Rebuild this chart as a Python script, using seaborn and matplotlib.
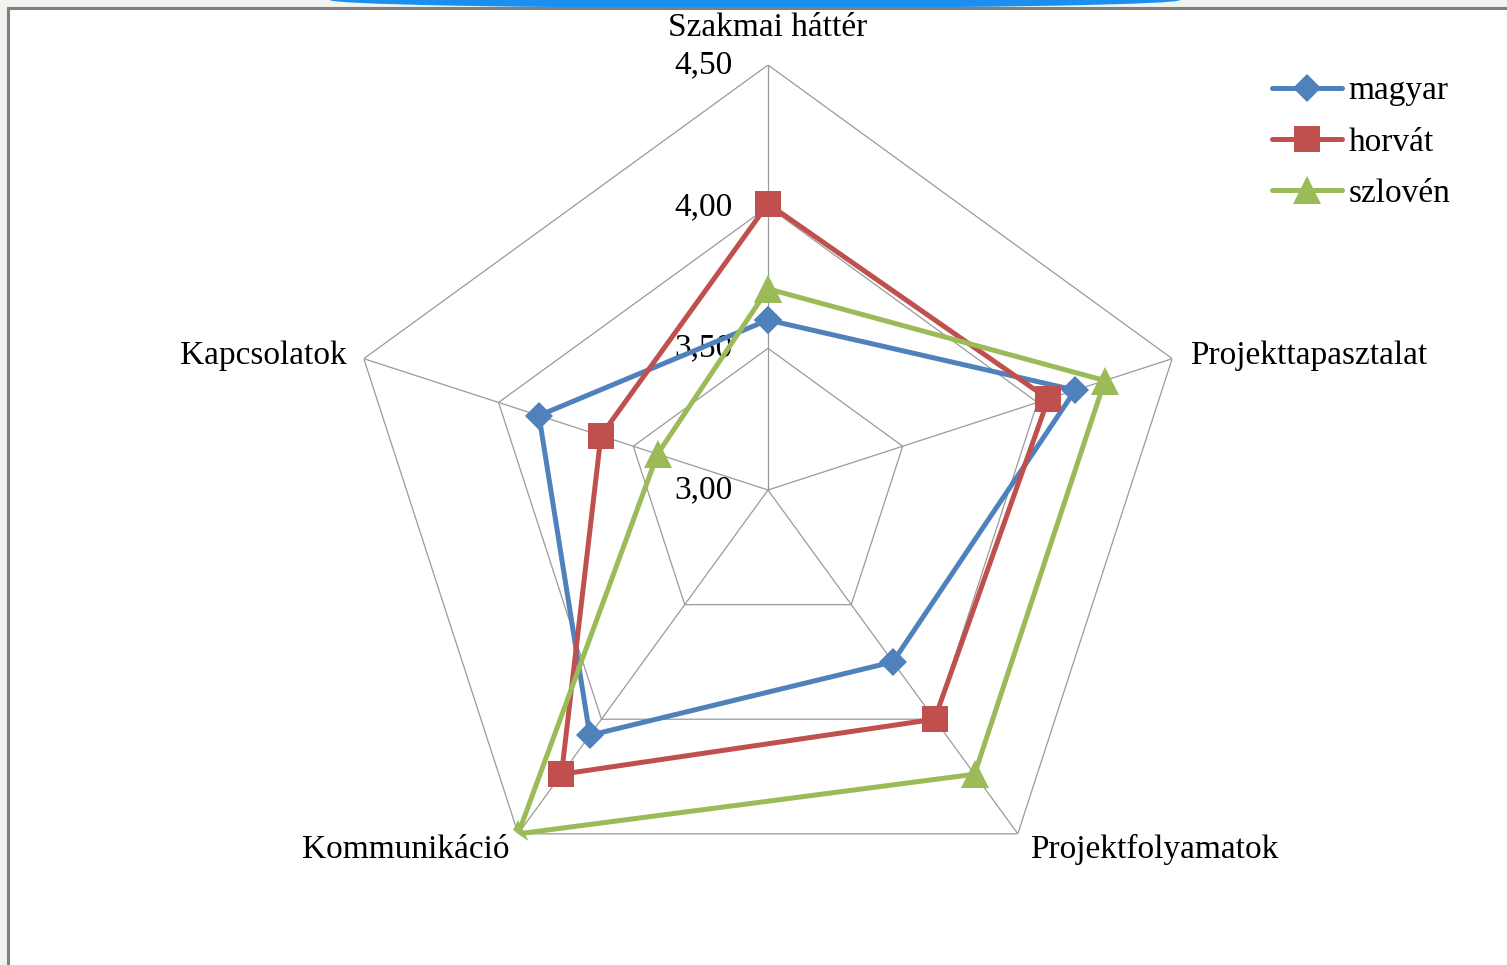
import numpy as np
import matplotlib
matplotlib.use('Agg')
import matplotlib.pyplot as plt
from matplotlib.patches import Rectangle, Ellipse
import seaborn as sns

# ====================
#  DATA
# ====================

categories = ['Szakmai háttér', 'Projekttapasztalat', 'Projektfolyamatok',
              'Kommunikáció', 'Kapcsolatok']
magyar = [3.60, 4.14, 3.75, 4.07, 3.85]
horvat = [4.01, 4.04, 4.00, 4.24, 3.62]
szloven = [3.71, 4.25, 4.24, 4.50, 3.41]
series_names = ['magyar', 'horvát', 'szlovén']
r_ticks = [3.00, 3.50, 4.00, 4.50]
r_tick_labels = ['3,00', '3,50', '4,00', '4,50']

# ====================
#  STYLE
# ====================

sns.set_theme(style='white')
plt.rcParams['font.family'] = ['Liberation Serif', 'DejaVu Serif']

colors = ['#4F81BD', '#C0504D', '#9BBB59']
markers = ['D', 's', '^']
msizes = [14, 19, 20]
FS = 24

W, H = 1507, 965
fig = plt.figure(figsize=(W / 100, H / 100), dpi=100)
fig.patch.set_facecolor('#f1f3ef')

# blue arc at the top edge, then white chart area with gray border
fig.patches.append(Ellipse((755 / W, 1.0), 850 / W, 16 / H, transform=fig.transFigure,
                           facecolor='#1a8ff0', edgecolor='none', zorder=-3))
fig.patches.append(Rectangle((8 / W, -0.05), 1.2, 1 - 8 / H + 0.05, transform=fig.transFigure,
                             facecolor='white', edgecolor='#808080', linewidth=2.2, zorder=-2))

cx, cy, rad = 768, 475, 425
ax = fig.add_axes([(cx - rad) / W, (cy - rad) / H, 2 * rad / W, 2 * rad / H], projection='polar')
ax.patch.set_visible(False)
ax.set_theta_offset(np.pi / 2)
ax.set_theta_direction(-1)

n = len(categories)
theta = np.linspace(0, 2 * np.pi, n, endpoint=False)
theta_closed = np.append(theta, theta[0] + 2 * np.pi)

# polygon grid + spokes
for r in r_ticks[1:]:
    ax.plot(theta_closed, [r] * (n + 1), color='#9a9a9a', linewidth=0.9, zorder=1)
for t in theta:
    ax.plot([t, t], [r_ticks[0], r_ticks[-1]], color='#9a9a9a', linewidth=0.9, zorder=1)

# series
for name, vals, c, m, ms in zip(series_names, [magyar, horvat, szloven], colors, markers, msizes):
    sns.lineplot(x=theta_closed, y=vals + [vals[0]], ax=ax, sort=False, color=c,
                 linewidth=3.6, marker=m, markersize=ms, markeredgewidth=0,
                 markeredgecolor=c, label=name, zorder=3)

ax.set_ylim(r_ticks[0], r_ticks[-1])
ax.set_xticks([])
ax.set_yticks([])
ax.grid(False)
ax.spines['polar'].set_visible(False)

# radial tick labels
for r, lab in zip(r_ticks, r_tick_labels):
    ax.annotate(lab, xy=(0, r), xytext=(-35, 0), textcoords='offset pixels',
                ha='right', va='center', fontsize=FS, color='black', zorder=2)

# category labels
offsets = [(0, 37, 'center'), (18, 3, 'left'), (12, -16, 'left'),
           (-9, -16, 'right'), (-17, 3, 'right')]
for t, lab, (dx, dy, ha) in zip(theta, categories, offsets):
    ax.annotate(lab, xy=(t, r_ticks[-1]), xytext=(dx, dy), textcoords='offset pixels',
                ha=ha, va='center', fontsize=FS, color='black')

leg = ax.legend(loc='upper left', bbox_to_anchor=(1272 / W, 1 - 76 / H),
                bbox_transform=fig.transFigure, frameon=False, fontsize=FS,
                handlelength=2.1, handletextpad=0.2, labelspacing=0.62, borderaxespad=0,
                borderpad=0)
for txt in leg.get_texts():
    txt.set_color('black')

fig.savefig('out.png', dpi=100, facecolor=fig.get_facecolor())
